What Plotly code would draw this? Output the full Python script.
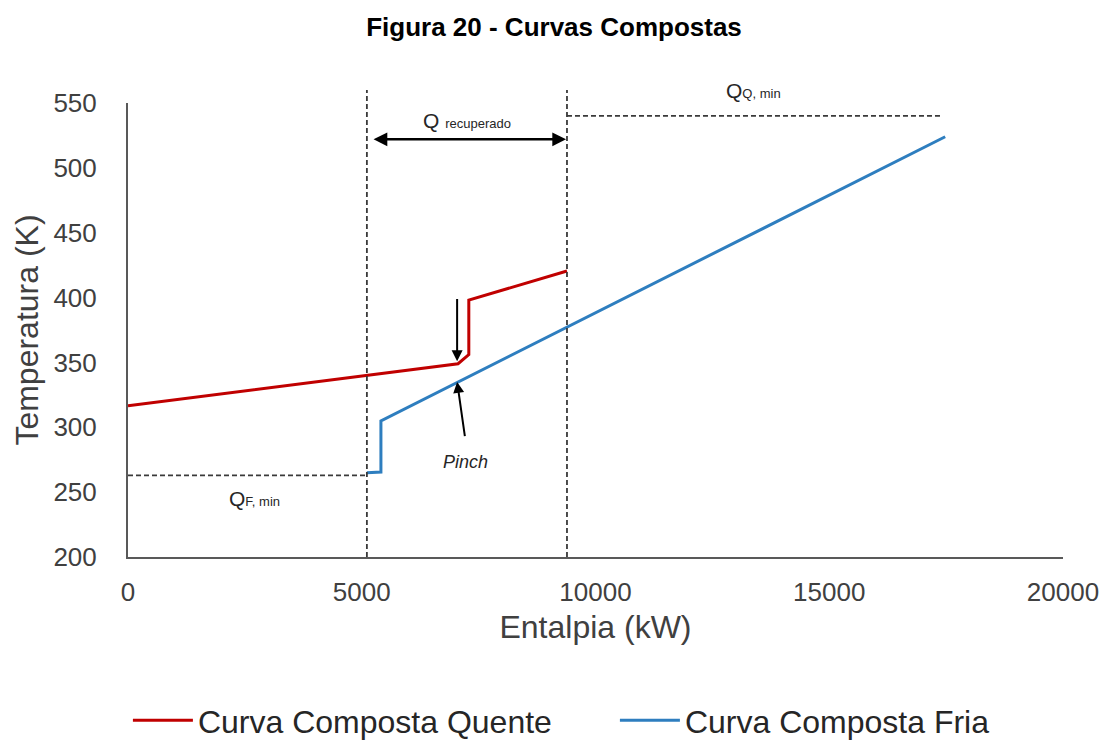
import plotly.graph_objects as go

# Composite curves: enthalpy (kW) vs temperature (K)
hot_h = [0, 7060, 7290, 7290, 9390]
hot_t = [316.5, 349, 356, 398, 420.5]
cold_h = [5110, 5410, 5410, 17480]
cold_t = [265, 265.5, 305, 524]

# Reference levels for the minimum-utility guides
t_cold_min = 263
t_hot_util = 540
h_hot_util_end = 17430
t_guide_top = 560

x_ticks = [0, 5000, 10000, 15000, 20000]
y_ticks = [200, 250, 300, 350, 400, 450, 500, 550]

RED = "#C00000"
BLUE = "#2E7EBF"
AXIS = "#595959"
GUIDE = "#3A3A3A"
FONT = "Liberation Sans, Arial, sans-serif"

fig = go.Figure()
fig.add_trace(go.Scatter(x=hot_h, y=hot_t, mode="lines", name="Curva Composta Quente",
                         line=dict(color=RED, width=3)))
fig.add_trace(go.Scatter(x=cold_h, y=cold_t, mode="lines", name="Curva Composta Fria",
                         line=dict(color=BLUE, width=3)))

y0, y1 = y_ticks[0], y_ticks[-1]


def to_paper(t):
    return (t - y0) / (y1 - y0)


dash = dict(color=GUIDE, width=1.8, dash="5px,3px")

# vertical guides at the cold start and hot end
for xv in (cold_h[0], hot_h[-1]):
    fig.add_shape(type="line", xref="x", yref="paper", x0=xv, x1=xv, y0=0,
                  y1=to_paper(t_guide_top), line=dash)
# horizontal guides for the utility levels
fig.add_shape(type="line", xref="x", yref="y", x0=0, x1=cold_h[0], y0=t_cold_min, y1=t_cold_min, line=dash)
fig.add_shape(type="line", xref="x", yref="y", x0=hot_h[-1], x1=h_hot_util_end,
              y0=t_hot_util, y1=t_hot_util, line=dash)

ann_font = dict(family=FONT, size=21, color="#262626")
sub = "<span style='font-size:13px'>{}</span>"

# recovered heat double arrow
fig.add_annotation(x=hot_h[-1] - 20, y=522, ax=cold_h[0] + 110, ay=522, xref="x", yref="y",
                   axref="x", ayref="y", text="", showarrow=True, arrowhead=2, startarrowhead=2,
                   arrowside="end+start", arrowsize=1.1, startarrowsize=1.1, arrowwidth=2.5,
                   arrowcolor="black")
fig.add_annotation(x=7250, y=526, xref="x", yref="y", text="Q " + sub.format("recuperado"),
                   showarrow=False, font=ann_font, yanchor="bottom")
fig.add_annotation(x=13370, y=to_paper(570), xref="x", yref="paper", text="Q" + sub.format("Q, min"),
                   showarrow=False, font=ann_font)
fig.add_annotation(x=2700, y=245, xref="x", yref="y", text="Q" + sub.format("F, min"),
                   showarrow=False, font=ann_font)

# arrow pointing at the hot curve kink
fig.add_annotation(x=7040, y=351, ax=7040, ay=400, xref="x", yref="y", axref="x", ayref="y",
                   text="", showarrow=True, arrowhead=2, arrowsize=1.1, arrowwidth=2,
                   arrowcolor="black")
# pinch arrow and label
fig.add_annotation(x=7040, y=335, ax=7210, ay=292, xref="x", yref="y", axref="x", ayref="y",
                   text="", showarrow=True, arrowhead=2, arrowsize=1.1, arrowwidth=2,
                   arrowcolor="black")
fig.add_annotation(x=7210, y=273, xref="x", yref="y", text="<i>Pinch</i>", showarrow=False,
                   font=dict(family=FONT, size=18, color="#262626"))

fig.update_layout(
    width=1108, height=740,
    margin=dict(l=128, r=45, t=103, b=183, autoexpand=False),
    paper_bgcolor="white", plot_bgcolor="white",
    font=dict(family=FONT, color="#404040"),
    title=dict(text="<b>Figura 20 - Curvas Compostas</b>", x=0.5, xref="container", xanchor="center",
               y=1 - 27 / 740, yref="container", yanchor="middle",
               font=dict(family=FONT, size=26, color="black")),
    showlegend=True,
    legend=dict(orientation="h", x=-0.0001, xanchor="left", y=-0.36, yanchor="middle",
                itemwidth=60, entrywidth=412, entrywidthmode="pixels",
                font=dict(family=FONT, size=32, color="#262626")),
    xaxis=dict(range=[x_ticks[0], x_ticks[-1]], tickvals=x_ticks, tickformat="d", ticks="",
               showgrid=False, zeroline=False, showline=True, linecolor=AXIS, linewidth=2,
               tickfont=dict(size=26, color="#404040"), ticklabelstandoff=11,
               title=dict(text="Entalpia (kW)", font=dict(size=32, color="#404040"), standoff=9)),
    yaxis=dict(range=[y0, y1], tickvals=y_ticks, ticks="", showgrid=False,
               zeroline=False, showline=True, linecolor=AXIS, linewidth=2,
               tickfont=dict(size=26, color="#404040"), ticklabelstandoff=24,
               title=dict(text="Temperatura (K)", font=dict(size=32, color="#404040"), standoff=5)),
)

fig.write_html("out.html")
